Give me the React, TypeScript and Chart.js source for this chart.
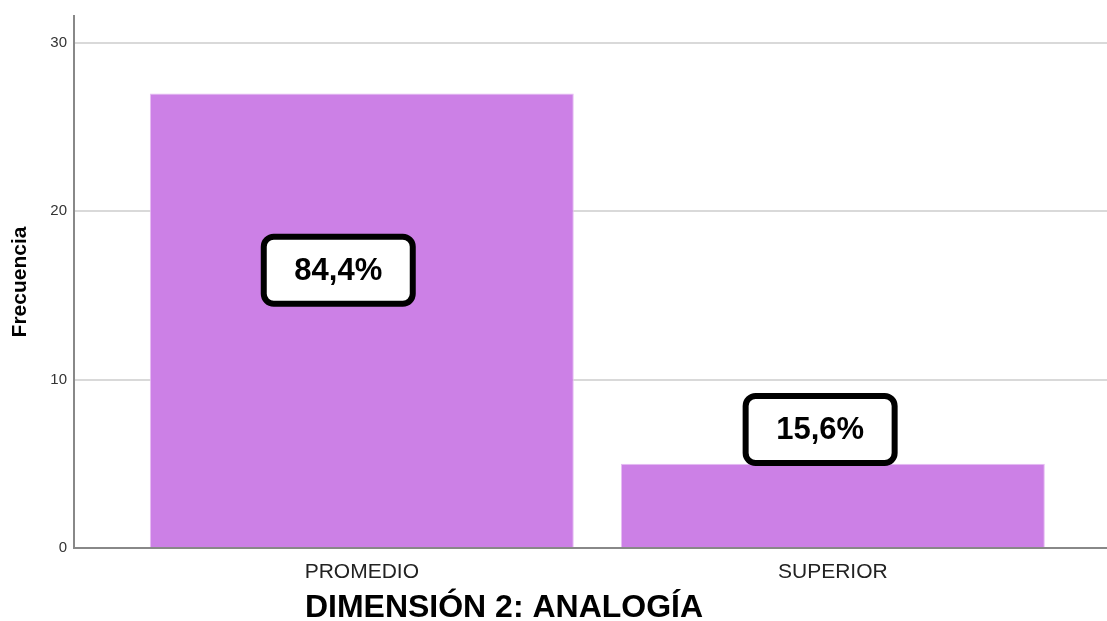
import React, { useEffect, useRef } from "react";
import { Chart, registerables } from "chart.js";

Chart.register(...registerables);

const categories = ["PROMEDIO", "SUPERIOR"];
const frequencies = [27, 5];
const yTicks = [0, 10, 20, 30];
const percentLabels = ["84,4%", "15,6%"];
// annotation anchor positions in data units (category index, frequency)
const labelX = [-0.05, 0.973];
const labelY = [16.5, 7.04];
const chartTitle = "DIMENSIÓN 2: ANALOGÍA";
const yTitle = "Frecuencia";

const FONT = "'Liberation Sans', Arial, Helvetica, sans-serif";

const overlayPlugin = {
  id: "overlay",
  afterDatasetsDraw(chart: any) {
    const ctx = chart.ctx;
    const xs = chart.scales.x;
    const ys = chart.scales.y;
    ctx.save();
    percentLabels.forEach((txt, i) => {
      const cx = xs.getPixelForValue(labelX[i]);
      const cy = ys.getPixelForValue(labelY[i]);
      const w = 149;
      const h = 67;
      const r = 10;
      ctx.beginPath();
      ctx.roundRect(cx - w / 2, cy - h / 2, w, h, r);
      ctx.fillStyle = "#ffffff";
      ctx.fill();
      ctx.lineWidth = 6;
      ctx.strokeStyle = "#000000";
      ctx.stroke();
      ctx.fillStyle = "#000000";
      ctx.font = `bold 31px ${FONT}`;
      ctx.textAlign = "center";
      ctx.textBaseline = "middle";
      ctx.fillText(txt, cx, cy + 1);
    });
    ctx.restore();
  },
  afterDraw(chart: any) {
    const ctx = chart.ctx;
    ctx.save();
    ctx.fillStyle = "#000000";
    ctx.font = `bold 32px ${FONT}`;
    ctx.textAlign = "center";
    ctx.textBaseline = "alphabetic";
    ctx.fillText(chartTitle, 504, 617);
    ctx.restore();
  },
};

export default function App() {
  const ref = useRef<HTMLCanvasElement | null>(null);
  useEffect(() => {
    if (!ref.current) return;
    const chart = new Chart(ref.current, {
      type: "bar",
      data: {
        datasets: [
          {
            data: categories.map((c, i) => ({ x: i, y: frequencies[i] })),
            backgroundColor: "#cc80e6",
            borderColor: "#e6bdf3",
            borderWidth: 1,
            barPercentage: 0.9,
            categoryPercentage: 1,
          },
        ],
      },
      options: {
        animation: false,
        responsive: false,
        devicePixelRatio: 1,
        layout: { padding: { top: 15, left: 0, right: 0, bottom: 0 } },
        plugins: {
          legend: { display: false },
          tooltip: { enabled: false },
          title: { display: false },
        },
        scales: {
          x: {
            type: "linear",
            offset: false,
            min: -0.611,
            max: 1.582,
            afterFit: (s: any) => {
              s.height = 73;
            },
            grid: { display: false, drawTicks: false, offset: false },
            border: { display: true, color: "#888888", width: 2 },
            ticks: {
              stepSize: 1,
              includeBounds: false,
              padding: 12,
              autoSkip: false,
              maxRotation: 0,
              color: "#222222",
              font: { family: FONT, size: 21 },
              callback: (v: any) =>
                Number.isInteger(v) && categories[v] !== undefined ? categories[v] : "",
            },
          },
          y: {
            type: "linear",
            min: 0,
            max: 31.6,
            afterFit: (s: any) => {
              s.width = 74;
            },
            afterBuildTicks: (s: any) => {
              s.ticks = yTicks.map((v) => ({ value: v }));
            },
            grid: { color: "#d9d9d9", lineWidth: 2, drawTicks: false },
            border: { display: true, color: "#888888", width: 2 },
            ticks: {
              stepSize: 10,
              includeBounds: false,
              padding: 7,
              color: "#333333",
              font: { family: FONT, size: 15 },
            },
            title: {
              display: true,
              text: yTitle,
              color: "#000000",
              font: { family: FONT, size: 21, weight: "bold" },
              padding: { top: 8, bottom: 0 },
            },
          },
        },
      },
      plugins: [overlayPlugin],
    });
    return () => chart.destroy();
  }, []);
  return (
    <div style={{ position: "absolute", left: 0, top: 0, width: 1107, height: 621, background: "#fff" }}>
      <canvas ref={ref} width={1107} height={621} />
    </div>
  );
}
